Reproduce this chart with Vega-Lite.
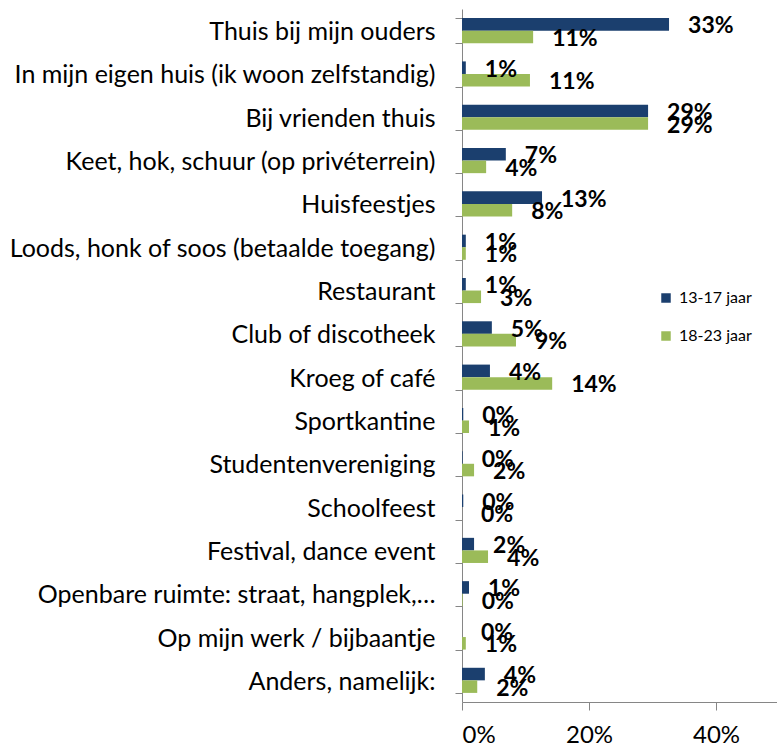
{
  "$schema": "https://vega.github.io/schema/vega-lite/v6.json",
  "width": 315,
  "height": 693,
  "autosize": {"type": "none"},
  "padding": {"left": 462, "top": 9, "right": 0, "bottom": 45},
  "background": "white",
  "config": {"view": {"stroke": null}, "font": "Lato"},
  "data": {
    "values": [
      {"category": "Thuis bij mijn ouders", "group": "13-17 jaar", "value": 0.326},
      {"category": "Thuis bij mijn ouders", "group": "18-23 jaar", "value": 0.112},
      {"category": "In mijn eigen huis (ik woon zelfstandig)", "group": "13-17 jaar", "value": 0.006},
      {"category": "In mijn eigen huis (ik woon zelfstandig)", "group": "18-23 jaar", "value": 0.107},
      {"category": "Bij vrienden thuis", "group": "13-17 jaar", "value": 0.293},
      {"category": "Bij vrienden thuis", "group": "18-23 jaar", "value": 0.293},
      {"category": "Keet, hok, schuur (op privéterrein)", "group": "13-17 jaar", "value": 0.069},
      {"category": "Keet, hok, schuur (op privéterrein)", "group": "18-23 jaar", "value": 0.038},
      {"category": "Huisfeestjes", "group": "13-17 jaar", "value": 0.126},
      {"category": "Huisfeestjes", "group": "18-23 jaar", "value": 0.079},
      {"category": "Loods, honk of soos (betaalde toegang)", "group": "13-17 jaar", "value": 0.006},
      {"category": "Loods, honk of soos (betaalde toegang)", "group": "18-23 jaar", "value": 0.006},
      {"category": "Restaurant", "group": "13-17 jaar", "value": 0.006},
      {"category": "Restaurant", "group": "18-23 jaar", "value": 0.030},
      {"category": "Club of discotheek", "group": "13-17 jaar", "value": 0.047},
      {"category": "Club of discotheek", "group": "18-23 jaar", "value": 0.085},
      {"category": "Kroeg of café", "group": "13-17 jaar", "value": 0.044},
      {"category": "Kroeg of café", "group": "18-23 jaar", "value": 0.142},
      {"category": "Sportkantine", "group": "13-17 jaar", "value": 0.002},
      {"category": "Sportkantine", "group": "18-23 jaar", "value": 0.011},
      {"category": "Studentenvereniging", "group": "13-17 jaar", "value": 0.001},
      {"category": "Studentenvereniging", "group": "18-23 jaar", "value": 0.019},
      {"category": "Schoolfeest", "group": "13-17 jaar", "value": 0.002},
      {"category": "Schoolfeest", "group": "18-23 jaar", "value": 0.0},
      {"category": "Festival, dance event", "group": "13-17 jaar", "value": 0.019},
      {"category": "Festival, dance event", "group": "18-23 jaar", "value": 0.041},
      {"category": "Openbare ruimte: straat, hangplek,…", "group": "13-17 jaar", "value": 0.011},
      {"category": "Openbare ruimte: straat, hangplek,…", "group": "18-23 jaar", "value": 0.001},
      {"category": "Op mijn werk / bijbaantje", "group": "13-17 jaar", "value": 0.0},
      {"category": "Op mijn werk / bijbaantje", "group": "18-23 jaar", "value": 0.006},
      {"category": "Anders, namelijk:", "group": "13-17 jaar", "value": 0.036},
      {"category": "Anders, namelijk:", "group": "18-23 jaar", "value": 0.024}
    ]
  },
  "encoding": {
    "y": {
      "field": "category",
      "type": "nominal",
      "sort": null,
      "scale": {"paddingInner": 0.42, "paddingOuter": 0.21},
      "axis": {
        "title": null,
        "tickBand": "extent",
        "domainColor": "#868686",
        "tickColor": "#868686",
        "tickSize": 7,
        "labelFontSize": 25,
        "labelFont": "Lato",
        "labelColor": "black",
        "labelPadding": 20,
        "labelLimit": 600,
        "labelOffset": 1
      }
    },
    "yOffset": {"field": "group", "type": "nominal", "sort": ["13-17 jaar", "18-23 jaar"]},
    "x": {
      "field": "value",
      "type": "quantitative",
      "scale": {"domain": [0, 0.496], "nice": false},
      "axis": {
        "title": null,
        "values": [0, 0.2, 0.4],
        "format": ".0%",
        "grid": false,
        "domainColor": "#868686",
        "tickColor": "#868686",
        "tickSize": 8,
        "labelFontSize": 24,
        "labelFont": "Lato",
        "labelColor": "black",
        "labelPadding": 13
      }
    }
  },
  "layer": [
    {
      "mark": {"type": "bar"},
      "encoding": {
        "color": {
          "field": "group",
          "type": "nominal",
          "scale": {"domain": ["13-17 jaar", "18-23 jaar"], "range": ["#1B3F6E", "#9BBB59"]},
          "legend": {
            "title": null,
            "orient": "none",
            "legendX": 196,
            "legendY": 281,
            "symbolType": "square",
            "symbolSize": 90,
            "symbolStrokeWidth": 0,
            "labelFontSize": 16,
            "labelFont": "Lato",
            "labelColor": "black",
            "rowPadding": 22,
            "labelOffset": 5,
            "padding": 0
          }
        }
      }
    },
    {
      "mark": {"type": "text", "align": "left", "baseline": "middle", "dx": 19, "dy": 2, "fontSize": 23, "fontWeight": "bold", "font": "Lato", "color": "black"},
      "encoding": {"text": {"field": "value", "type": "quantitative", "format": ".0%"}}
    }
  ]
}
